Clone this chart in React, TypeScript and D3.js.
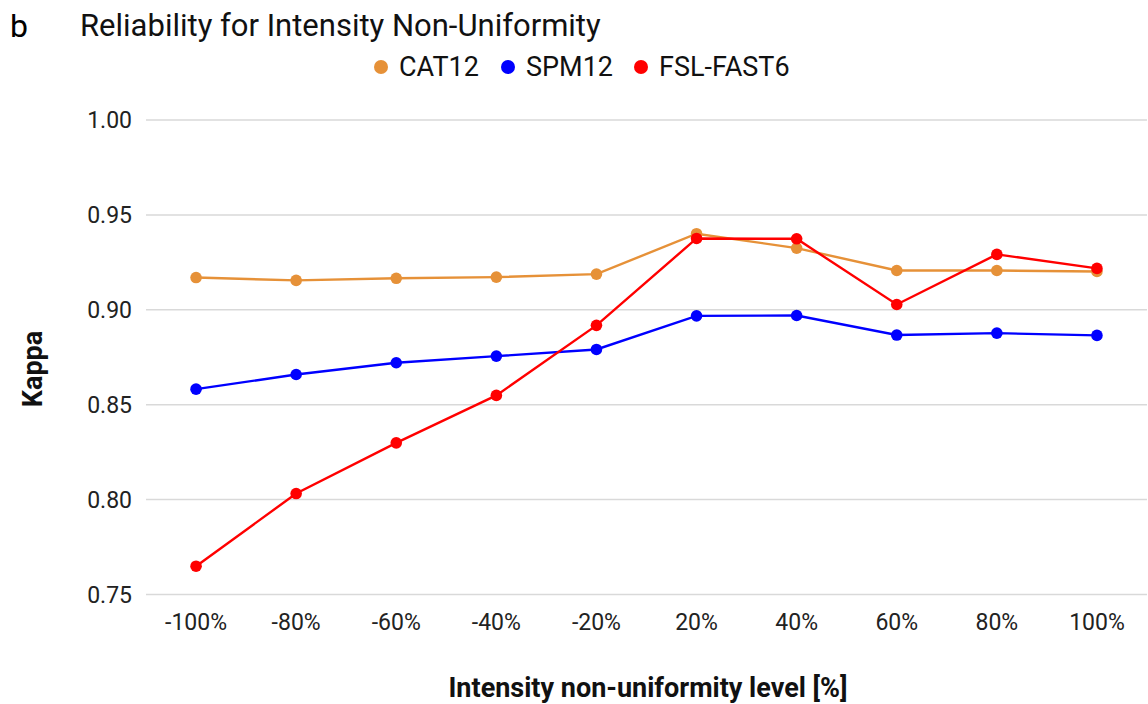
import React, { useEffect, useRef } from 'react';
import * as d3 from 'd3';

const levels = ['-100%', '-80%', '-60%', '-40%', '-20%', '20%', '40%', '60%', '80%', '100%'];
const cat12 = [0.917, 0.9155, 0.9166, 0.9172, 0.9188, 0.9401, 0.9325, 0.9207, 0.9207, 0.9202];
const spm12 = [0.8582, 0.8659, 0.8721, 0.8756, 0.8791, 0.8968, 0.897, 0.8867, 0.8877, 0.8865];
const fslFast6 = [0.7649, 0.8032, 0.8299, 0.8549, 0.8918, 0.9376, 0.9374, 0.9028, 0.9292, 0.9218];
const yTicks = [0.75, 0.8, 0.85, 0.9, 0.95, 1.0];

const series = [
  { name: 'CAT12', values: cat12, color: '#e69138' },
  { name: 'SPM12', values: spm12, color: '#0000ff' },
  { name: 'FSL-FAST6', values: fslFast6, color: '#ff0000' },
];

const App: React.FC = () => {
  const svgRef = useRef<SVGSVGElement>(null);

  useEffect(() => {
    if (!svgRef.current) return;
    const W = 1148, H = 704;
    const font = 'Roboto, sans-serif';

    const svg = d3.select(svgRef.current)
      .attr('width', W)
      .attr('height', H)
      .html('');

    const x = d3.scalePoint<string>()
      .domain(levels)
      .range([146, 1147])
      .padding(0.5);

    const y = d3.scaleLinear()
      .domain([0.75, 1.0])
      .range([594.5, 120]);

    // gridlines
    svg.append('g')
      .selectAll('line')
      .data(yTicks)
      .join('line')
      .attr('x1', 146)
      .attr('x2', 1147)
      .attr('y1', d => y(d))
      .attr('y2', d => y(d))
      .style('stroke', '#d9d9d9')
      .style('stroke-width', 1.5);

    // y tick labels
    svg.append('g')
      .selectAll('text')
      .data(yTicks)
      .join('text')
      .attr('x', 132)
      .attr('y', d => y(d))
      .attr('dy', '0.35em')
      .attr('text-anchor', 'end')
      .style('font-family', font)
      .style('font-size', '23px')
      .style('fill', '#222')
      .text(d => d.toFixed(2));

    // x tick labels
    svg.append('g')
      .selectAll('text')
      .data(levels)
      .join('text')
      .attr('x', d => x(d)!)
      .attr('y', 630)
      .attr('text-anchor', 'middle')
      .style('font-family', font)
      .style('font-size', '23px')
      .style('fill', '#222')
      .text(d => d);

    const line = d3.line<number>()
      .x((_, i) => x(levels[i])!)
      .y(d => y(d));

    series.forEach(s => {
      svg.append('path')
        .datum(s.values)
        .attr('d', line)
        .style('fill', 'none')
        .style('stroke', s.color)
        .style('stroke-width', 2.4);
      svg.append('g')
        .selectAll('circle')
        .data(s.values)
        .join('circle')
        .attr('cx', (_, i) => x(levels[i])!)
        .attr('cy', d => y(d))
        .attr('r', 5.8)
        .style('fill', s.color);
    });

    // panel letter and title
    svg.append('text')
      .attr('x', 10)
      .attr('y', 37)
      .style('font-family', font)
      .style('font-size', '32px')
      .style('fill', '#000')
      .text('b');
    svg.append('text')
      .attr('x', 80)
      .attr('y', 36)
      .style('font-family', font)
      .style('font-size', '31px')
      .style('fill', '#111')
      .text('Reliability for Intensity Non-Uniformity');

    // legend
    const legendPos = [381, 508, 641];
    series.forEach((s, i) => {
      svg.append('circle')
        .attr('cx', legendPos[i])
        .attr('cy', 67)
        .attr('r', 7)
        .style('fill', s.color);
      svg.append('text')
        .attr('x', legendPos[i] + 18)
        .attr('y', 67)
        .attr('dy', '0.35em')
        .style('font-family', font)
        .style('font-size', '27px')
        .style('fill', '#111')
        .text(s.name);
    });

    // axis titles
    svg.append('text')
      .attr('x', 648)
      .attr('y', 697)
      .attr('text-anchor', 'middle')
      .style('font-family', font)
      .style('font-size', '27px')
      .style('font-weight', 'bold')
      .style('fill', '#111')
      .text('Intensity non-uniformity level [%]');
    svg.append('text')
      .attr('transform', 'translate(42,369) rotate(-90)')
      .attr('text-anchor', 'middle')
      .style('font-family', font)
      .style('font-size', '27px')
      .style('font-weight', 'bold')
      .style('fill', '#111')
      .text('Kappa');
  }, []);

  return (
    <svg ref={svgRef} style={{ position: 'absolute', left: 0, top: 0, background: '#fff' }} />
  );
};

export default App;
